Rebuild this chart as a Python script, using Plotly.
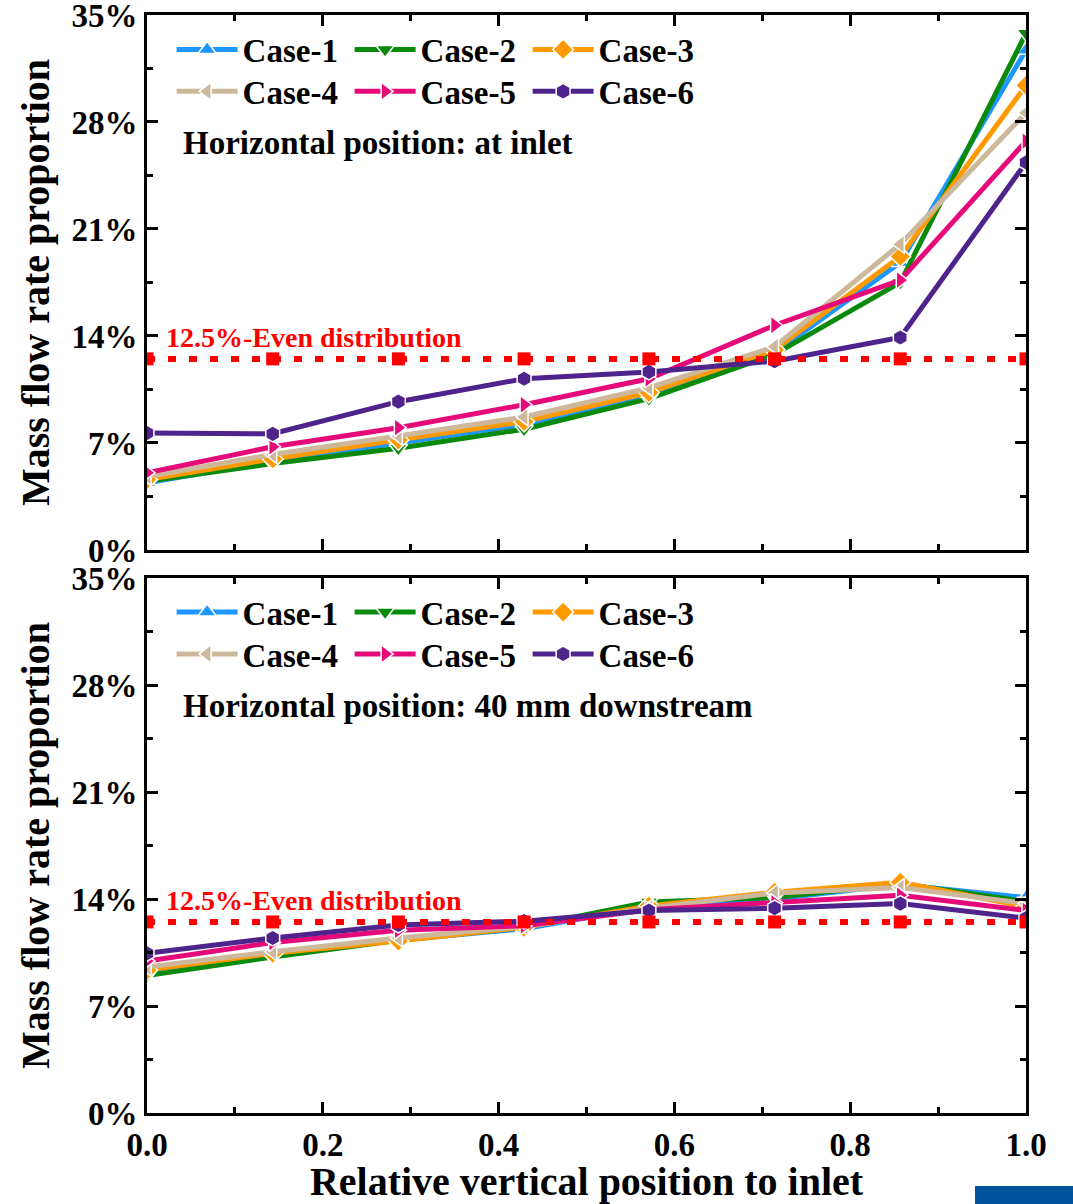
import plotly.graph_objects as go

# Relative vertical position of each outlet (0 = inlet side)
x_pos = [0.0, 0.143, 0.286, 0.429, 0.571, 0.714, 0.857, 1.0]

# Mass flow rate proportion (%) - horizontal position: at inlet
case1_inlet = [4.4, 5.8, 7.0, 8.2, 10.1, 12.9, 18.8, 32.7]
case2_inlet = [4.5, 5.65, 6.65, 7.9, 9.9, 12.8, 17.5, 33.8]
case3_inlet = [4.6, 5.95, 7.2, 8.4, 10.3, 13.1, 19.2, 30.4]
case4_inlet = [4.8, 6.25, 7.45, 8.7, 10.6, 13.3, 20.0, 28.6]
case5_inlet = [5.05, 6.75, 8.0, 9.5, 11.2, 14.7, 17.65, 26.75]
case6_inlet = [7.65, 7.6, 9.7, 11.2, 11.65, 12.35, 13.9, 25.35]

# Mass flow rate proportion (%) - horizontal position: 40 mm downstream
case1_down = [9.3, 10.4, 11.3, 12.05, 13.5, 14.0, 14.95, 14.1]
case2_down = [9.0, 10.2, 11.3, 12.15, 13.8, 14.1, 15.0, 13.85]
case3_down = [9.35, 10.45, 11.25, 12.15, 13.55, 14.45, 15.1, 13.5]
case4_down = [9.55, 10.55, 11.45, 12.2, 13.4, 14.4, 14.75, 13.7]
case5_down = [9.95, 11.15, 11.95, 12.25, 13.3, 13.75, 14.25, 13.25]
case6_down = [10.45, 11.45, 12.3, 12.55, 13.25, 13.4, 13.7, 12.75]

# Even distribution reference (100% / 8 outlets)
even_line = [12.5, 12.5, 12.5, 12.5, 12.5, 12.5, 12.5, 12.5]

case_names = ["Case-1", "Case-2", "Case-3", "Case-4", "Case-5", "Case-6"]
y_ticks = [0, 7, 14, 21, 28, 35]
y_tick_text = ["0%", "7%", "14%", "21%", "28%", "35%"]
x_ticks = [0.0, 0.2, 0.4, 0.6, 0.8, 1.0]
x_tick_text = ["0.0", "0.2", "0.4", "0.6", "0.8", "1.0"]

colors = ["#1E96FF", "#0A8A0A", "#FF9900", "#CDB89C", "#E5097A", "#4F238C"]
symbols = ["triangle-up", "triangle-down", "diamond", "triangle-left",
           "triangle-right", "hexagon"]

FONT = "Liberation Serif, Times New Roman, serif"

inlet_series = [case1_inlet, case2_inlet, case3_inlet, case4_inlet, case5_inlet, case6_inlet]
down_series = [case1_down, case2_down, case3_down, case4_down, case5_down, case6_down]

fig = go.Figure()

# each legend holds one row of three entries
panels = [("x", "y", ["legend", "legend2"], inlet_series),
          ("x2", "y2", ["legend3", "legend4"], down_series)]
for xa, ya, legs, series in panels:
    for i, (name, vals, col, sym) in enumerate(zip(case_names, series, colors, symbols)):
        fig.add_trace(go.Scatter(
            x=x_pos, y=vals, name=name, xaxis=xa, yaxis=ya,
            legend=legs[i // 3],
            mode="lines+markers",
            line=dict(color=col, width=5),
            marker=dict(symbol=sym, size=16, color=col,
                        line=dict(color="white", width=1.5)),
        ))
    fig.add_trace(go.Scatter(
        x=x_pos, y=even_line, xaxis=xa, yaxis=ya, showlegend=False,
        mode="lines+markers",
        line=dict(color="#FF0000", width=6, dash="8px,13px"),
        marker=dict(symbol="square", size=13, color="#FF0000"),
    ))

axis_common = dict(
    showline=True, linewidth=3, linecolor="black", mirror="ticks",
    ticks="inside", ticklen=11, tickwidth=3, tickcolor="black",
    showgrid=False, zeroline=False, ticklabeloverflow="allow",
    tickfont=dict(family=FONT, size=33, color="black", weight="bold"),
)

x_common = dict(axis_common, range=[0, 1], tickmode="array",
                tickvals=x_ticks, ticktext=x_tick_text,
                minor=dict(dtick=0.1, tick0=0, ticks="inside", ticklen=6,
                           tickwidth=3, tickcolor="black"))
y_common = dict(axis_common, range=[0, 35], tickmode="array",
                tickvals=y_ticks, ticktext=y_tick_text,
                minor=dict(dtick=3.5, tick0=0, ticks="inside", ticklen=6,
                           tickwidth=3, tickcolor="black"))

y_title = dict(text="Mass flow rate proportion",
               font=dict(family=FONT, size=40, color="black", weight="bold"),
               standoff=10)

fig.update_layout(
    xaxis=dict(x_common, domain=[0, 1], anchor="y", showticklabels=False),
    yaxis=dict(y_common, domain=[0.5128, 1.0], anchor="x", title=y_title),
    xaxis2=dict(x_common, domain=[0, 1], anchor="y2",
                title=dict(text="Relative vertical position to inlet",
                           font=dict(family=FONT, size=40, color="black",
                                     weight="bold"),
                           standoff=11)),
    yaxis2=dict(y_common, domain=[0, 0.4872], anchor="x2", title=y_title),
)

legend_common = dict(
    orientation="h", xanchor="left", yanchor="middle",
    font=dict(family=FONT, size=33, color="black", weight="bold"),
    bgcolor="rgba(0,0,0,0)", entrywidth=102, itemwidth=61,
    x=0.028,
)
row_y = [0.9686, 0.9304, 0.4562, 0.4180]
fig.update_layout(
    legend=dict(legend_common, y=row_y[0]),
    legend2=dict(legend_common, y=row_y[1]),
    legend3=dict(legend_common, y=row_y[2]),
    legend4=dict(legend_common, y=row_y[3]),
)

# Panel captions and reference-line labels
for xref, yref, caption in [("x domain", "y domain", "Horizontal position: at inlet"),
                            ("x2 domain", "y2 domain", "Horizontal position: 40 mm downstream")]:
    fig.add_annotation(text=caption, xref=xref, yref=yref, x=0.039, y=0.761,
                       xanchor="left", yanchor="middle", showarrow=False,
                       font=dict(family=FONT, size=33, color="black",
                                 weight="bold"))
    fig.add_annotation(text="12.5%-Even distribution", xref=xref, yref=yref,
                       x=0.019, y=0.397, xanchor="left", yanchor="middle",
                       showarrow=False,
                       font=dict(family=FONT, size=28, color="#FF0000",
                                 weight="bold"))

# Blue corner block
fig.add_shape(type="rect", xref="paper", yref="paper",
              x0=0.942, x1=1.06, y0=-0.09, y1=-0.0665,
              fillcolor="#00529B", line=dict(width=0), layer="above")

fig.update_layout(
    template="none",
    width=1073, height=1204,
    margin=dict(l=147, r=47, t=15, b=91),
    paper_bgcolor="white", plot_bgcolor="white",
)

fig.write_html("out.html")
